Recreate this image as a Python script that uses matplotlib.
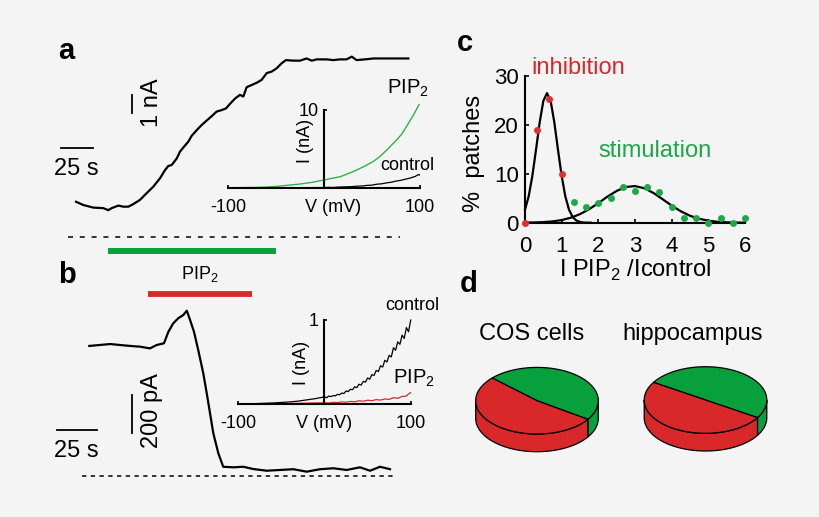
import numpy as np
import matplotlib.pyplot as plt
from matplotlib.patches import Polygon

plt.rcParams['font.family'] = ['Liberation Sans', 'DejaVu Sans']
plt.rcParams['lines.scale_dashes'] = False
plt.rcParams['axes.unicode_minus'] = False

W, H = 820, 517
BG = '#f4f4f4'
RED = '#d8282a'
GREEN = '#07a03c'

# --- panel a: current trace (s, nA) ---
trace_a_t = [0, 5.7, 13.4, 21.1, 25.0, 27.6, 32.8, 36.6, 40.5, 44.3,
             49.5, 54.7, 59.8, 65.1, 68.9, 71.4, 74.1, 78.0, 80.5, 83.5,
             86.9, 89.5, 93.4, 97.2, 101.2, 105.1, 108.9, 112.8, 116.1, 119.2,
             123.1, 126.9, 129.5, 132.1, 136.0, 139.8, 143.7, 147.6, 151.4, 155.3,
             159.2, 162.5, 168.2, 173.4, 178.5, 182.4, 186.3, 194.0, 199.2, 204.4,
             209.5, 213.4, 217.2, 225.0, 230.1, 240.5, 250.7, 257.2]
trace_a_nA = [1.91, 1.73, 1.59, 1.56, 1.45, 1.56, 1.70, 1.64, 1.64, 1.78,
              2.01, 2.38, 2.73, 3.20, 3.64, 3.86, 3.92, 4.28, 4.65, 4.91,
              5.19, 5.51, 5.82, 6.10, 6.35, 6.59, 6.84, 6.92, 7.01, 7.26,
              7.55, 7.75, 7.66, 8.17, 8.29, 8.41, 8.57, 8.94, 9.02, 9.20,
              9.48, 9.65, 9.62, 9.62, 9.74, 9.62, 9.69, 9.69, 9.65, 9.69,
              9.69, 9.84, 9.65, 9.70, 9.74, 9.74, 9.74, 9.74]
pip2_on_a = [25.0, 154.8]

# inset a: I-V (mV, nA)
iv_a_pip2_v = [-100, -85, -70, -58, -46, -25, -12, 0, 8, 17, 25, 34, 42, 51, 58, 65, 76, 81, 86, 93, 99]
iv_a_pip2_i = [0, 0.01, 0.04, 0.10, 0.21, 0.47, 0.70, 0.99, 1.20, 1.42, 1.80, 2.27, 2.75, 3.35, 3.99,
               4.80, 6.20, 6.90, 7.90, 9.30, 10.70]
iv_a_ctrl_v = [-100, -50, -20, 0, 5, 10, 15, 20, 25, 30, 35, 40, 45, 50, 55, 60, 65, 70, 75,
               80, 85, 90, 95, 97, 99, 100]
iv_a_ctrl_i = [0.0, 0.0, 0.01, 0.02, 0.05, 0.03, 0.08, 0.10, 0.12, 0.15, 0.20, 0.22, 0.30, 0.33,
               0.45, 0.50, 0.62, 0.70, 0.85, 0.95, 1.10, 1.25, 1.45, 1.60, 1.70, 1.60]

# --- panel b: current trace (s, pA) ---
trace_b_t = [0, 6.8, 13.2, 19.5, 25.9, 32.3, 38.6, 42.9, 47.5, 50.3,
             53.4, 56.6, 59.8, 62.0, 64.1, 66.6, 69.3, 72.5, 74.7, 76.8,
             78.9, 82.1, 85.2, 91.6, 98.0, 104.3, 112.8, 121.3, 129.8, 138.3,
             146.8, 155.3, 163.7, 172.2, 178.6, 184.9, 191.3]
trace_b_pA = [690, 695, 700, 695, 690, 686, 677, 695, 704, 765,
              810, 837, 854, 877, 828, 765, 668, 545, 439, 333,
              226, 120, 49, 46, 49, 37, 28, 32, 36, 23,
              36, 41, 32, 46, 28, 49, 36]
pip2_on_b = [37.5, 103.7]

# inset b: I-V (mV, nA)
iv_b_ctrl_v = [-100, -80, -60, -40, -30, -20, -10, 0, 2.5, 5, 7.5, 10, 12.5, 15, 17.5, 20, 22.5,
               25, 27.5, 30, 32.5, 35, 37.5, 40, 42.5, 45, 47.5, 50, 52.5, 55, 57.5, 60, 62.5,
               65, 67.5, 70, 72.5, 75, 77.5, 80, 82.5, 85, 87.5, 90, 92.5, 95, 97.5, 100]
iv_b_ctrl_i = [0.0, 0.005, 0.012, 0.025, 0.035, 0.05, 0.065, 0.085, 0.075, 0.095, 0.088, 0.10,
               0.097, 0.115, 0.11, 0.13, 0.125, 0.155, 0.148, 0.175, 0.17, 0.205, 0.195, 0.235,
               0.225, 0.27, 0.26, 0.31, 0.295, 0.35, 0.34, 0.40, 0.385, 0.455, 0.44, 0.52, 0.50,
               0.58, 0.56, 0.67, 0.64, 0.74, 0.71, 0.82, 0.78, 0.91, 0.86, 1.0]
iv_b_pip2_v = [-100, -60, -30, 0, 5, 10, 15, 20, 25, 30, 35, 40, 45, 50, 55, 60, 65, 70, 75,
               80, 85, 90, 95, 97.5, 100]
iv_b_pip2_i = [0, 0.003, 0.008, 0.015, 0.012, 0.02, 0.017, 0.025, 0.022, 0.03, 0.027, 0.038,
               0.033, 0.045, 0.04, 0.052, 0.047, 0.06, 0.055, 0.075, 0.068, 0.09, 0.095, 0.12, 0.135]

# --- panel c: histogram of I PIP2 / I control ---
inhib_x = [0, 1 / 3, 2 / 3, 1]
inhib_pct = [0, 19.0, 25.3, 9.9]
stim_x = [4 / 3, 5 / 3, 2, 7 / 3, 8 / 3, 3, 10 / 3, 11 / 3, 4, 13 / 3, 14 / 3, 5, 16 / 3, 17 / 3, 6]
stim_pct = [4.3, 3.3, 4.1, 5.0, 7.4, 6.5, 7.4, 6.2, 3.3, 1.0, 1.0, 0, 1.0, 0, 1.0]
fit1_x = [0, 0.1, 0.2, 0.3, 0.4, 0.5, 0.6, 0.7, 0.8, 0.9, 1.0, 1.1, 1.2, 1.3, 1.4, 1.5, 1.6, 1.7, 1.8]
fit1_y = [2.67, 5.38, 9.55, 14.9, 20.5, 24.9, 26.5, 24.9, 20.5, 14.9, 9.55, 5.38, 2.67, 1.16,
          0.45, 0.15, 0.04, 0.01, 0.0]
fit2_x = [0, 0.25, 0.5, 0.75, 1.0, 1.25, 1.5, 1.75, 2.0, 2.25, 2.5, 2.75, 3.0, 3.25, 3.5, 3.75,
          4.0, 4.25, 4.5, 4.75, 5.0, 5.25, 5.5, 5.75, 6.0]
fit2_y = [0.02, 0.05, 0.12, 0.26, 0.54, 1.02, 1.75, 2.77, 4.0, 5.34, 6.5, 7.3, 7.49, 7.05, 6.1,
          4.82, 3.5, 2.33, 1.42, 0.80, 0.41, 0.19, 0.08, 0.03, 0.01]

# --- panel d: fraction of patches (stimulation, inhibition) ---
pie_names = ['COS cells', 'hippocampus']
pie_fracs = [[0.475, 0.525], [0.50, 0.50]]
pie_start = [-34, -32]

fig = plt.figure(figsize=(W / 100, H / 100), dpi=100, facecolor=BG)


def box(x0, y0, x1, y1):
    return [x0 / W, 1 - y1 / H, (x1 - x0) / W, (y1 - y0) / H]


def ftext(x, y, s, **kw):
    fig.text(x / W, 1 - y / H, s, **kw)


def iv_axes(rect, ymax):
    ax = fig.add_axes(rect)
    ax.set_facecolor('none')
    ax.set_xlim(-100, 100)
    ax.set_ylim(0, ymax)
    ax.spines[['top', 'right']].set_visible(False)
    ax.spines['left'].set_position(('data', 0))
    ax.spines[['left', 'bottom']].set_linewidth(1.5)
    ax.set_xticks([-100, 100])
    ax.set_yticks([ymax])
    ax.tick_params(direction='in', length=2.5, width=1.2, labelsize=13)
    ax.tick_params(axis='x', pad=8)
    ax.tick_params(axis='y', pad=4)
    return ax


# ---------------- a ----------------
ax = fig.add_axes(box(40, 40, 430, 262))
ax.set_axis_off()
ax.set_xlim(-27.86, 274.0)
ax.set_ylim(-1.383, 10.749)
ax.plot(trace_a_t, trace_a_nA, color='k', lw=1.6)
ax.plot([-6.0, 250.8], [0, 0], color='k', lw=1.1, dashes=(3.6, 4.9))
ax.plot(pip2_on_a, [-0.77, -0.77], color=GREEN, lw=4.3, solid_capstyle='butt')
ax.plot([-11.6, -11.6 + 25], [4.83, 4.83], color='k', lw=1.3)
ax.plot([43.1, 43.1], [6.74, 6.74 + 1], color='k', lw=1.3)
ftext(76.7, 175, '25 s', ha='center', va='baseline', fontsize=17)
ftext(152, 102.5, '1 nA', ha='center', va='center', rotation=90, fontsize=17)

ax = iv_axes(box(228, 110, 420, 187.7), 10)
ax.plot(iv_a_ctrl_v, iv_a_ctrl_i, color='k', lw=0.9)
ax.plot(iv_a_pip2_v, iv_a_pip2_i, color='#2db34a', lw=1.0, clip_on=False)
ax.set_yticklabels(['10'])
ftext(333, 199.5, 'V (mV)', ha='center', va='top', fontsize=13)
ftext(306, 140.5, 'I (nA)', ha='center', va='center', rotation=90, fontsize=13)
ftext(387, 94, 'PIP$_\\mathregular{2}$', ha='left', va='baseline', fontsize=14.5)
ftext(380, 170, 'control', ha='left', va='baseline', fontsize=13)

# ---------------- b ----------------
ax = fig.add_axes(box(40, 290, 430, 490))
ax.set_axis_off()
ax.set_xlim(-31.36, 216.73)
ax.set_ylim(-74.27, 986.7)
ax.plot(trace_b_t, trace_b_pA, color='k', lw=1.6)
ax.plot([-4.8, 195.5], [0, 0], color='k', lw=1.1, dashes=(3.1, 3.2))
ax.plot(pip2_on_b, [964, 964], color=RED, lw=4.2, solid_capstyle='butt')
ax.plot([-20.4, -20.4 + 25], [244, 244], color='k', lw=1.3)
ax.plot([27.0, 27.0], [229.7, 229.7 + 200], color='k', lw=1.3)
ftext(76.7, 457.3, '25 s', ha='center', va='baseline', fontsize=17)
ftext(152.5, 410.7, '200 pA', ha='center', va='center', rotation=90, fontsize=17)
ftext(200, 279, 'PIP$_\\mathregular{2}$', ha='center', va='baseline', fontsize=13)

ax = iv_axes(box(238.3, 320, 410.7, 404), 1)
ax.plot(iv_b_ctrl_v, iv_b_ctrl_i, color='k', lw=0.9, clip_on=False)
ax.plot(iv_b_pip2_v, iv_b_pip2_i, color='#d42a2a', lw=0.9)
ax.set_yticklabels(['1'])
ftext(324, 414.5, 'V (mV)', ha='center', va='top', fontsize=13)
ftext(302, 363, 'I (nA)', ha='center', va='center', rotation=90, fontsize=13)
ftext(439, 310, 'control', ha='right', va='baseline', fontsize=13)
ftext(393, 384, 'PIP$_\\mathregular{2}$', ha='left', va='baseline', fontsize=14.5)

# ---------------- c ----------------
ax = fig.add_axes(box(525, 76, 745, 222.7))
ax.set_facecolor('none')
ax.set_xlim(0, 6)
ax.set_ylim(0, 30)
ax.spines[['top', 'right']].set_visible(False)
ax.spines[['left', 'bottom']].set_linewidth(1.5)
ax.set_xticks(range(7))
ax.set_yticks([0, 10, 20, 30])
ax.tick_params(direction='in', length=3, width=1.2, labelsize=16)
ax.tick_params(axis='x', pad=9.5)
ax.tick_params(axis='y', pad=4.5)
ax.plot(fit1_x, fit1_y, color='k', lw=1.6, clip_on=False)
ax.plot(fit2_x, fit2_y, color='k', lw=1.6, clip_on=False)
ax.plot(stim_x, stim_pct, 'o', color='#1aab48', ms=5, mew=0, clip_on=False, zorder=3)
ax.plot(inhib_x, inhib_pct, 'o', color='#e0302e', ms=5, mew=0, clip_on=False, zorder=3)
ftext(531.7, 74, 'inhibition', ha='left', va='baseline', fontsize=17, color='#d8282e')
ftext(654.7, 156.7, 'stimulation', ha='center', va='baseline', fontsize=17, color='#1aa848')
ftext(474, 153, '%  patches', ha='center', va='center', rotation=90, fontsize=17)
ftext(635.5, 277, 'I PIP$_\\mathregular{2}$ /Icontrol', ha='center', va='baseline', fontsize=17)


# ---------------- d ----------------
def pie3d(ax, fracs, start, colors, k=0.543, d=0.289):
    a0 = start
    tops = []
    for f, c in zip(fracs, colors):
        a1 = a0 + 360 * f
        t = np.radians(np.linspace(a0, a1, 400))
        front = np.sin(t) <= 0
        if front.any():
            xs = np.cos(t[front])
            ys = k * np.sin(t[front])
            side = np.column_stack([np.r_[xs, xs[::-1]], np.r_[ys, ys[::-1] - d]])
            ax.add_patch(Polygon(side, closed=True, fc=c, ec='k', lw=0.9, zorder=1))
        top = np.column_stack([np.r_[0, np.cos(t)], np.r_[0, k * np.sin(t)]])
        tops.append(Polygon(top, closed=True, fc=c, ec='k', lw=0.9, zorder=2))
        a0 = a1
    for p in tops:
        ax.add_patch(p)


pie_cx = [537, 705.5]
pie_cy = [400.7, 400]
for name, fr, st, cx, cy in zip(pie_names, pie_fracs, pie_start, pie_cx, pie_cy):
    ax = fig.add_axes(box(cx - 70, 355, cx + 70, 460))
    ax.set_axis_off()
    ax.set_xlim(-70 / 61.3, 70 / 61.3)
    ax.set_ylim(-(460 - cy) / 61.3, (cy - 355) / 61.3)
    pie3d(ax, fr, st, [GREEN, RED])
ftext(531.7, 340, pie_names[0], ha='center', va='baseline', fontsize=17)
ftext(692.7, 340, pie_names[1], ha='center', va='baseline', fontsize=17)

# panel letters
for lab, x, y in [('a', 58.3, 59), ('b', 58.3, 282.7), ('c', 457.3, 50.7), ('d', 459.3, 291.7)]:
    ftext(x, y, lab, ha='left', va='baseline', fontsize=21, fontweight='bold')

fig.savefig('out.png', dpi=100, facecolor=BG)
